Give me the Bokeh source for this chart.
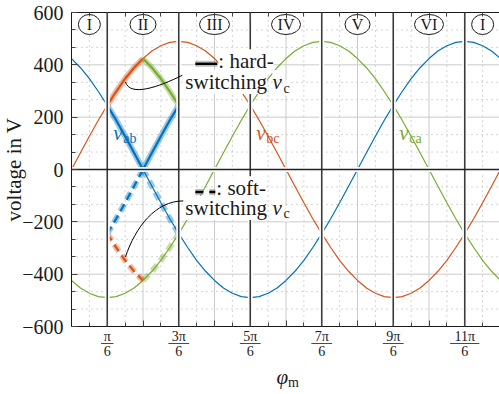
import math
from bokeh.plotting import figure
from bokeh.models import Range1d, FixedTicker, LinearAxis, Label
from bokeh.core.properties import value
from bokeh.embed import file_html
from bokeh.resources import INLINE

# ---------------- data ----------------
phi_deg = [0, 7.5, 15, 22.5, 30, 37.5, 45, 52.5, 60, 67.5, 75, 82.5, 90,
           97.5, 105, 112.5, 120, 127.5, 135, 142.5, 150, 157.5, 165, 172.5, 180,
           187.5, 195, 202.5, 210, 217.5, 225, 232.5, 240, 247.5, 255, 262.5, 270,
           277.5, 285, 292.5, 300, 307.5, 315, 322.5, 330, 337.5, 345, 352.5, 360]
v_ab = [424, 389, 347, 298, 245, 188, 127, 64, 0, -64, -127, -188, -245, -298, -347,
        -389, -424, -453, -473, -486, -490, -486, -473, -453, -424, -389, -347, -298,
        -245, -188, -127, -64, 0, 64, 127, 188, 245, 298, 347, 389, 424, 453, 473, 486,
        490, 486, 473, 453, 424]
v_bc = [0, 64, 127, 188, 245, 298, 347, 389, 424, 453, 473, 486, 490, 486, 473, 453,
        424, 389, 347, 298, 245, 188, 127, 64, 0, -64, -127, -188, -245, -298, -347,
        -389, -424, -453, -473, -486, -490, -486, -473, -453, -424, -389, -347, -298,
        -245, -188, -127, -64, 0]
v_ca = [-424, -453, -473, -486, -490, -486, -473, -453, -424, -389, -347, -298, -245,
        -188, -127, -64, 0, 64, 127, 188, 245, 298, 347, 389, 424, 453, 473, 486, 490,
        486, 473, 453, 424, 389, 347, 298, 245, 188, 127, 64, 0, -64, -127, -188, -245,
        -298, -347, -389, -424]
series_names = ["ab", "bc", "ca"]

sector_names = ["I", "II", "III", "IV", "V", "VI", "I"]
sector_center_deg = [15, 60, 120, 180, 240, 300, 345]
sector_bound_deg = [30, 90, 150, 210, 270, 330]

xtick_deg = [30, 90, 150, 210, 270, 330]
xtick_num = ["π", "3π", "5π", "7π", "9π", "11π"]
xtick_den = "6"
ytick_vals = [-600, -400, -200, 0, 200, 400, 600]
ytick_text = ["−600", "−400", "−200", "0", "200", "400", "600"]
y_lo, y_hi = -600, 600
x_lo, x_hi = 0.0, 2 * math.pi

# ---------------- layout / styling ----------------
BLUE, ORANGE, GREEN = "#0072BD", "#D95319", "#77AC30"
FONT = "Liberation Serif"
INK = "#1a1a1a"
R = math.pi / 180
W, H = 499, 394
LEFT_PX, TOP_PX, PLOT_W, PLOT_H = 71, 12, 429, 314
BOT_PX = H - TOP_PX - PLOT_H
UX = (x_hi - x_lo) / PLOT_W
UY = (y_hi - y_lo) / PLOT_H
RIGHT_CUT = LEFT_PX + PLOT_W - W   # box edge lies just beyond the window

phi = [d * R for d in phi_deg]

p = figure(width=W, height=H,
           x_range=Range1d(x_lo - LEFT_PX * UX, x_hi - RIGHT_CUT * UX),
           y_range=Range1d(y_lo - BOT_PX * UY, y_hi + TOP_PX * UY),
           x_axis_location=None, y_axis_location=None,
           output_backend="svg", toolbar_location=None, min_border=0)
p.outline_line_color = None
p.background_fill_color = "white"
p.border_fill_color = "white"
p.grid.visible = False

xt = FixedTicker(ticks=[k * math.pi / 6 for k in range(13)],
                 minor_ticks=[(2 * k + 1) * math.pi / 12 for k in range(12)])
yt = FixedTicker(ticks=ytick_vals,
                 minor_ticks=[y_lo + i * 200 / 3 for i in range(19) if i % 3 != 0])

def style_axis(ax):
    ax.axis_line_color = INK
    ax.axis_line_width = 1
    ax.major_tick_in = 6
    ax.major_tick_out = 0
    ax.minor_tick_in = 4
    ax.minor_tick_out = 0
    ax.major_tick_line_color = "#444444"
    ax.minor_tick_line_color = "#444444"

# grid inside the axes box
gxM = [t for t in xt.ticks if x_lo < t < x_hi - 1e-9]
gxm = list(xt.minor_ticks)
gyM = [t for t in yt.ticks if y_lo < t < y_hi]
gym = list(yt.minor_ticks)
p.segment(x0=gxm, y0=[y_lo] * len(gxm), x1=gxm, y1=[y_hi] * len(gxm),
          line_color="#a8a8a8", line_width=1, line_dash="1 4", level="underlay")
p.segment(x0=[x_lo] * len(gym), y0=gym, x1=[x_hi] * len(gym), y1=gym,
          line_color="#a8a8a8", line_width=1, line_dash="1 4", level="underlay")
p.segment(x0=gxM, y0=[y_lo] * len(gxM), x1=gxM, y1=[y_hi] * len(gxM),
          line_color="#cacaca", line_width=1, level="underlay")
p.segment(x0=[x_lo] * len(gyM), y0=gyM, x1=[x_hi] * len(gyM), y1=gyM,
          line_color="#cacaca", line_width=1, level="underlay")

# axes placed on the box edges
xa = LinearAxis(ticker=xt, fixed_location=y_lo, bounds=(x_lo, x_hi),
                major_label_text_font_size="1px", major_label_text_alpha=0)
style_axis(xa)
p.add_layout(xa, "below")
top = LinearAxis(ticker=xt, fixed_location=y_hi, bounds=(x_lo, x_hi),
                 major_label_text_font_size="1px", major_label_text_alpha=0)
style_axis(top)
p.add_layout(top, "above")

ya = LinearAxis(ticker=yt, fixed_location=x_lo, bounds=(y_lo, y_hi))
style_axis(ya)
ya.major_label_overrides = {v: t for v, t in zip(ytick_vals, ytick_text)}
ya.major_label_text_font = FONT
ya.major_label_text_font_size = "20px"
ya.major_label_text_color = INK
ya.major_label_standoff = 8
ya.axis_label = "voltage in V"
ya.axis_label_text_font = FONT
ya.axis_label_text_font_size = "21px"
ya.axis_label_text_font_style = "normal"
ya.axis_label_text_color = INK
ya.axis_label_standoff = -7
p.add_layout(ya, "left")

# ---------------- curves ----------------
colors = {"ab": BLUE, "bc": ORANGE, "ca": GREEN}
vals = {"ab": v_ab, "bc": v_bc, "ca": v_ca}
for n in series_names:
    p.line(phi, vals[n], line_color=colors[n], line_width=1.2)

i0 = phi_deg.index(sector_bound_deg[0])
i1 = phi_deg.index(sector_center_deg[1])
i2 = phi_deg.index(sector_bound_deg[1])

def thick(xs, ys, col, dash="solid", core=True):
    p.line(xs, ys, line_color=col, line_alpha=0.4, line_width=6, line_dash=dash)
    if core:
        p.line(xs, ys, line_color=col, line_width=2.2, line_dash=dash)

# hard-switching v_c (sector II)
thick(phi[i0:i1 + 1], v_bc[i0:i1 + 1], ORANGE)
thick(phi[i1:i2 + 1], [-v for v in v_ca[i1:i2 + 1]], GREEN)
thick(phi[i0:i2 + 1], [abs(v) for v in v_ab[i0:i2 + 1]], BLUE)
# soft-switching v_c (sector II)
thick(phi[i0:i1 + 1], [-v for v in v_ab[i0:i1 + 1]], BLUE, "8 5")
thick(phi[i1:i2 + 1], v_ab[i1:i2 + 1], BLUE, "8 5", core=False)
thick(phi[i0:i1 + 1], [-v for v in v_bc[i0:i1 + 1]], ORANGE, "8 5")
thick(phi[i1:i2 + 1], v_ca[i1:i2 + 1], GREEN, "8 5", core=False)

# ---------------- sector lines with white halo ----------------
bx = [d * R for d in sector_bound_deg]
p.segment(x0=bx, y0=[y_lo] * len(bx), x1=bx, y1=[y_hi] * len(bx), line_color="white", line_width=5)
p.segment(x0=[x_lo], y0=[0], x1=[x_hi], y1=[0], line_color="white", line_width=5)
p.segment(x0=bx, y0=[y_lo] * len(bx), x1=bx, y1=[y_hi] * len(bx), line_color="#3a3a3a", line_width=1.6)
p.segment(x0=[x_lo], y0=[0], x1=[x_hi], y1=[0], line_color="#222222", line_width=1.5)

# ---------------- leaders ----------------
p.bezier(x0=[0.790, 0.790], y0=[334, -334], x1=[1.623, 1.638], y1=[360, -120],
         cx0=[0.863, 0.936], cy0=[277, -221], cx1=[1.272, 1.229], cy1=[315, -120],
         line_color="black", line_width=1)

# ---------------- sector labels ----------------
sc = [d * R for d in sector_center_deg]
sy = y_hi - 12 * UY
widths = [18 + 4 * s.count("I") + 7 * s.count("V") for s in sector_names]
p.ellipse(x=sc, y=[sy] * len(sc), width=widths, height=[20] * len(sc),
          width_units="screen", height_units="screen",
          fill_color="white", line_color=INK, line_width=1)
p.text(x=sc, y=[sy] * len(sc), text=sector_names, text_font=value(FONT),
       text_font_size=value("16px"), text_align="center", text_baseline="middle",
       text_color=INK)

# ---------------- text helpers ----------------
def lab(x, y, text, size=21, style="normal", color=INK, align="left", bg=None):
    # y is the wanted baseline; raise a little to compensate the renderer's box offset
    l = Label(x=x, y=y + 0.3 * size * UY, text=text, text_font=FONT,
              text_font_size=f"{size}px", text_font_style=style, text_color=color,
              text_align=align, text_baseline="alphabetic")
    if bg:
        l.background_fill_color = bg
    p.add_layout(l)

# curve names
for n, d in zip(series_names, sector_bound_deg[0::2]):
    lab(d * R + 6 * UX, 116, "v", style="italic", color=colors[n])
    lab(d * R + 16 * UX, 103, n, size=14, color=colors[n])

# annotation: hard-switching
p.line([1.814, 2.135], [404, 404], line_color="#888888", line_alpha=0.5, line_width=6, level="overlay")
p.line([1.814, 2.135], [404, 404], line_color="black", line_width=2.4, level="overlay")
lab(2.150, 390, ": hard-", bg="white")
lab(1.667, 310, "switching", bg="white")
lab(2.945, 310, "v", style="italic", bg="white")
lab(3.105, 295, "c", size=14, bg="white")

# annotation: soft-switching
p.line([1.814, 2.106], [-86, -86], line_color="#888888", line_alpha=0.5, line_width=6,
       line_dash="8 6", level="overlay")
p.line([1.814, 2.106], [-86, -86], line_color="black", line_width=2.4,
       line_dash="8 6", level="overlay")
lab(2.121, -96, ": soft-", bg="white")
lab(1.667, -171, "switching", bg="white")
lab(2.945, -171, "v", style="italic", bg="white")
lab(3.105, -186, "c", size=14, bg="white")

# x tick labels as stacked fractions
fx, hws = [], []
for d, num in zip(xtick_deg, xtick_num):
    x = d * R
    lab(x, y_lo - 14.5 * UY, num, size=14, align="center")
    lab(x, y_lo - 29 * UY, xtick_den, size=14, align="center")
    fx.append(x)
    hws.append((2 + 4.2 * len(num)) * UX)
yb = y_lo - 17 * UY
p.segment(x0=[x - h for x, h in zip(fx, hws)], y0=[yb] * len(fx),
          x1=[x + h for x, h in zip(fx, hws)], y1=[yb] * len(fx),
          line_color=INK, line_width=0.8)

# x axis label φ_m
xc = (x_lo + x_hi) / 2
lab(xc + 2 * UX, y_lo - 57 * UY, "φ", style="italic", align="right")
lab(xc + 2 * UX, y_lo - 60 * UY, "m", size=14)

open("out.html", "w").write(file_html(p, INLINE))
